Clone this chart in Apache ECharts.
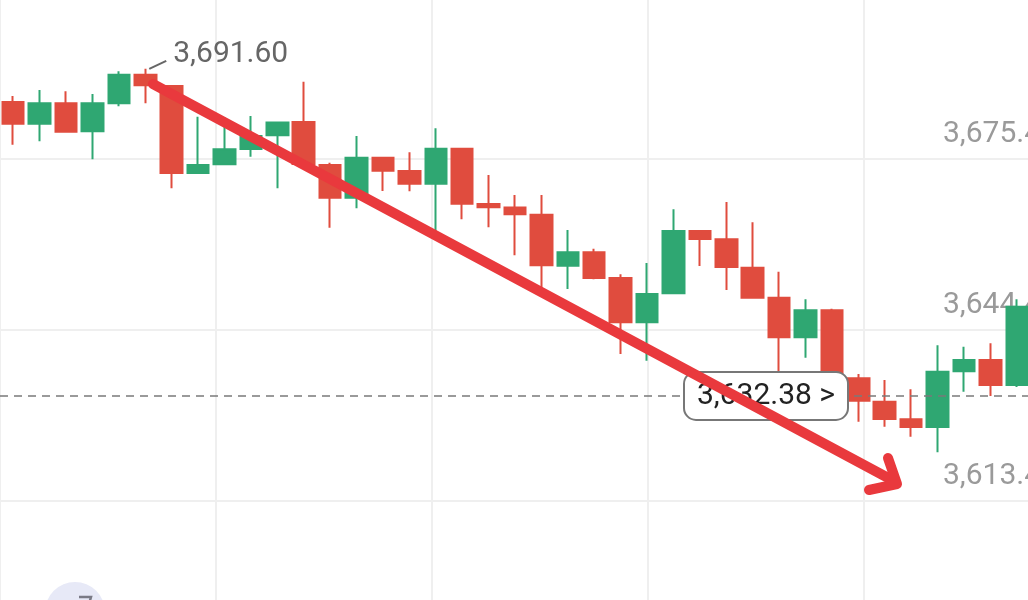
<!DOCTYPE html>
<html>
<head>
<meta charset="utf-8">
<script src="https://cdn.jsdelivr.net/npm/echarts@6.0.0/dist/echarts.min.js"></script>
<style>
  html, body { margin: 0; padding: 0; background: #ffffff; }
  #chart { width: 1028px; height: 600px; }
</style>
</head>
<body>
<div id="chart"></div>
<script>
// ---- data ----
const categories = ['1','2','3','4','5','6','7','8','9','10','11','12','13','14','15','16','17','18','19','20',
  '21','22','23','24','25','26','27','28','29','30','31','32','33','34','35','36','37','38','39'];
const openValues  = [3685.59,3681.67,3685.36,3680.29,3685.36,3690.54,3688.50,3672.74,3674.31,3677.08,
  3679.56,3681.97,3674.19,3668.27,3675.51,3673.10,3670.80,3677.14,3667.12,3666.49,
  3665.19,3655.95,3658.38,3653.73,3645.70,3650.95,3662.24,3660.73,3655.59,3650.16,
  3642.99,3647.88,3635.56,3631.33,3628.14,3626.75,3636.83,3638.88,3634.35];
const closeValues = [3681.67,3685.36,3680.22,3685.36,3690.54,3688.62,3672.74,3674.19,3677.03,3679.44,
  3681.90,3674.37,3668.27,3675.51,3673.15,3670.80,3677.14,3667.18,3666.53,3665.26,
  3656.03,3658.38,3653.73,3645.70,3650.83,3662.24,3660.79,3655.72,3650.16,3642.99,
  3647.88,3636.34,3631.51,3628.19,3626.75,3636.76,3638.88,3634.35,3648.53];
const lowValues   = [3677.86,3678.48,3680.04,3675.22,3684.82,3685.36,3669.97,3672.61,3674.20,3675.69,
  3669.97,3674.01,3662.83,3666.35,3669.48,3669.42,3662.11,3664.35,3662.91,3657.84,
  3651.73,3651.73,3653.49,3639.96,3638.75,3650.90,3655.90,3651.55,3650.10,3636.16,
  3639.29,3635.62,3627.70,3626.80,3624.99,3622.16,3633.14,3632.36,3633.99];
const highValues  = [3686.68,3687.77,3687.53,3687.04,3691.15,3691.60,3688.67,3682.93,3682.82,3683.06,
  3682.00,3689.27,3674.60,3679.44,3675.54,3676.49,3680.83,3677.17,3672.38,3668.75,
  3668.75,3662.42,3659.03,3654.40,3656.44,3666.17,3662.30,3667.49,3663.81,3654.87,
  3649.87,3648.17,3636.34,3635.26,3633.57,3641.54,3641.29,3641.90,3649.87];
const priceTicks = [3613.40, 3644.40, 3675.40];
const tickStep = 31;
const lastPrice = 3632.38;
const maxPrice = 3691.60;
const maxIndex = 5;

// ---- build ----
const fmt = v => v.toLocaleString('en-US', {minimumFractionDigits: 2, maximumFractionDigits: 2});
const candleData = categories.map((c, i) => [openValues[i], closeValues[i], lowValues[i], highValues[i]]);
const UP = '#2fa772', DOWN = '#e04c3e';

const chart = echarts.init(document.getElementById('chart'), null, {renderer: 'canvas'});
const yMin = priceTicks[0] - tickStep;
const yMax = priceTicks[priceTicks.length - 1] + tickStep;

chart.setOption({
  animation: false,
  backgroundColor: '#ffffff',
  grid: {left: 0, right: -2, top: -12.9, bottom: -71.9, containLabel: false, outerBoundsMode: 'none'},
  xAxis: [
    {type: 'category', data: categories, boundaryGap: true,
     axisLine: {show: false}, axisTick: {show: false}, axisLabel: {show: false}, splitLine: {show: false}},
    {type: 'value', min: 0, max: 1030, interval: 216, position: 'top',
     axisLine: {show: false}, axisTick: {show: false}, axisLabel: {show: false},
     splitLine: {show: true, lineStyle: {color: '#efefef', width: 2}}}
  ],
  yAxis: {
    type: 'value', position: 'right', min: yMin, max: yMax, interval: tickStep,
    axisLine: {show: false}, axisTick: {show: false},
    splitLine: {show: true, lineStyle: {color: '#efefef', width: 2}},
    axisLabel: {
      inside: true, margin: 87, align: 'left', verticalAlign: 'middle',
      lineHeight: 48,
      color: '#9a9a9a', fontSize: 30, fontFamily: 'Roboto',
      formatter: v => fmt(v) + '\n ',
      showMinLabel: false, showMaxLabel: false
    }
  },
  series: [{
    type: 'candlestick',
    xAxisIndex: 0,
    data: candleData,
    barWidth: 22,
    itemStyle: {color: UP, color0: DOWN, borderColor: UP, borderColor0: DOWN, borderWidth: 2},
    markLine: {
      silent: true, symbol: 'none',
      label: {show: false},
      lineStyle: {color: '#7a7a7a', type: [8, 6], width: 1.5},
      data: [{yAxis: lastPrice}]
    }
  }]
});

// annotations positioned through the library's scale
const pMax = chart.convertToPixel({seriesIndex: 0}, [maxIndex, maxPrice]);
const pLast = chart.convertToPixel({seriesIndex: 0}, [0, lastPrice]);
const boxCx = 766;

chart.setOption({
  graphic: [
    {type: 'line', z: 60, shape: {x1: pMax[0] + 4, y1: pMax[1], x2: pMax[0] + 21, y2: pMax[1] - 8},
     style: {stroke: '#666', lineWidth: 2}},
    {type: 'text', z: 60, x: pMax[0] + 28, y: pMax[1] - 14,
     style: {text: fmt(maxPrice), fill: '#666', font: '30px Roboto', textVerticalAlign: 'middle', textAlign: 'left'}},
    {type: 'rect', z: 70, shape: {x: boxCx - 82, y: pLast[1] - 24, width: 164, height: 48, r: 12},
     style: {fill: '#ffffff', stroke: '#777', lineWidth: 2}},
    {type: 'text', z: 71, x: boxCx, y: pLast[1] + 1,
     style: {text: fmt(lastPrice) + ' >', fill: '#222', font: '30px Roboto', textVerticalAlign: 'middle', textAlign: 'center'}},
    // hand-drawn red arrow overlay
    {type: 'polyline', z: 100, shape: {points: [[153, 84], [892, 480]]},
     style: {stroke: '#e9393d', lineWidth: 10, lineCap: 'round', lineJoin: 'round'}},
    {type: 'polyline', z: 100, shape: {points: [[888, 458], [897, 484], [869, 490]]},
     style: {stroke: '#e9393d', lineWidth: 10, lineCap: 'round', lineJoin: 'round', fill: null}},
    // bottom-left round button
    {type: 'circle', z: 50, shape: {cx: 75, cy: 612, r: 30}, style: {fill: '#e7e9f7'}},
    {type: 'polyline', z: 51, shape: {points: [[79, 597], [91, 597], [89, 604]]},
     style: {stroke: '#7a7a86', lineWidth: 2.5, fill: null}}
  ]
});
</script>
</body>
</html>
